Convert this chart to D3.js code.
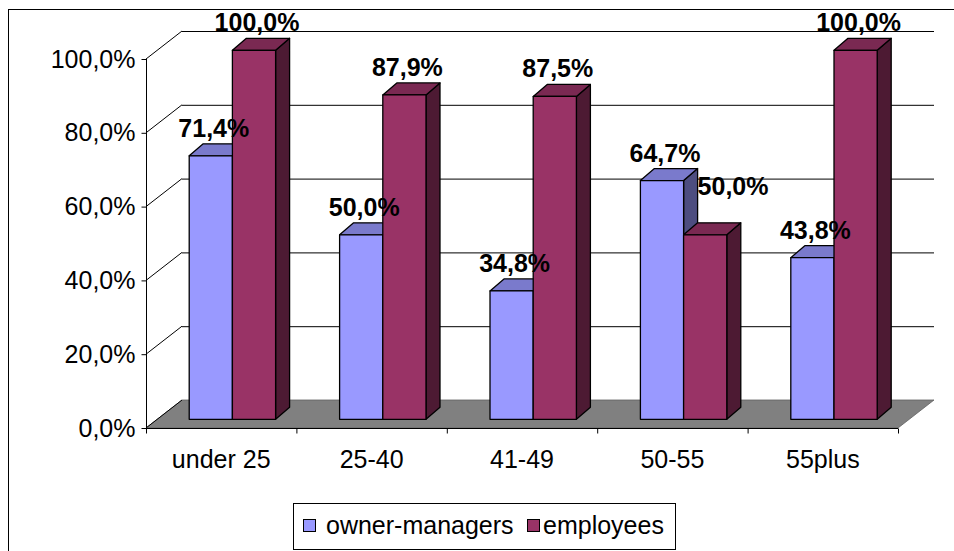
<!DOCTYPE html>
<html>
<head>
<meta charset="utf-8">
<script src="https://cdn.jsdelivr.net/npm/d3@7/dist/d3.min.js"></script>
<style>
  html, body { margin: 0; padding: 0; background: #fff; }
  svg { display: block; }
  text { font-family: "Liberation Sans", Arial, sans-serif; fill: #000; }
</style>
</head>
<body>
<svg id="chart" width="954" height="551"></svg>
<script>
// ---- data ----
const categories = ["under 25", "25-40", "41-49", "50-55", "55plus"];
const seriesNames = ["owner-managers", "employees"];
const ownerManagers = [71.4, 50.0, 34.8, 64.7, 43.8];
const employees = [100.0, 87.9, 87.5, 50.0, 100.0];
const yTicks = [0, 20, 40, 60, 80, 100];

const seriesValues = [ownerManagers, employees];
const frontColors = ["#9999FF", "#993366"];
const topColors = ["#7A7ACC", "#7A2952"];
const sideColors = ["#4D4D80", "#4D1A33"];

// ---- layout ----
const svg = d3.select("#chart");
const X0 = 146, X1 = 898, Y0 = 428, Y100 = 59;
const wallDX = 36, wallDY = 28;          // depth of walls / floor
const barShiftX = 11.2, barShiftY = 8.7;  // bars sit inside the floor depth
const barDX = 14, barDY = 12;             // bar depth

const x = d3.scaleBand().domain(categories).range([X0, X1]).padding(0);
const inner = d3.scaleBand().domain(seriesNames).range([0, x.bandwidth()])
  .paddingInner(0).paddingOuter(0.741);
const y = d3.scaleLinear().domain([0, 100]).range([Y0, Y100]);
const fmt = v => d3.format(".1f")(v).replace(".", ",") + "%";

// outer frame
svg.append("rect").attr("x", 8.5).attr("y", 9.5).attr("width", 1000).attr("height", 1000)
  .attr("fill", "none").attr("stroke", "#000").attr("stroke-width", 1);

// back wall gridlines
const grid = svg.append("g");
yTicks.forEach(t => {
  if (t === 0) return;
  grid.append("line")
    .attr("x1", X0 + wallDX).attr("x2", X1 + wallDX)
    .attr("y1", y(t) - wallDY + 0.5).attr("y2", y(t) - wallDY + 0.5)
    .attr("stroke", "#000").attr("stroke-width", 1);
  grid.append("line")
    .attr("x1", X0).attr("y1", y(t))
    .attr("x2", X0 + wallDX).attr("y2", y(t) - wallDY)
    .attr("stroke", "#000").attr("stroke-width", 1);
});

// floor
svg.append("polygon")
  .attr("points", [[X0, y(0)], [X1, y(0)], [X1 + wallDX, y(0) - wallDY], [X0 + wallDX, y(0) - wallDY]].map(p => p.join(",")).join(" "))
  .attr("fill", "#808080").attr("stroke", "#606060").attr("stroke-width", 0.8);
svg.append("line")
  .attr("x1", X0).attr("y1", y(0)).attr("x2", X0 + wallDX).attr("y2", y(0) - wallDY)
  .attr("stroke", "#000").attr("stroke-width", 1);

// axes
const yAxisG = svg.append("g").attr("transform", `translate(${X0 + 0.5},0)`)
  .call(d3.axisLeft(y).tickValues(yTicks).tickFormat(fmt).tickSize(5).tickPadding(6));
const xAxisG = svg.append("g").attr("transform", `translate(0,${Y0 + 0.5})`)
  .call(d3.axisBottom(x).tickSize(0).tickPadding(22));
[yAxisG, xAxisG].forEach(g => {
  g.select(".domain").attr("stroke", "#000").attr("stroke-width", 1);
  g.selectAll(".tick line").attr("stroke", "#000");
  g.selectAll("text").style("font-family", '"Liberation Sans", Arial, sans-serif')
    .style("font-size", "25px").attr("fill", "#000");
});
yAxisG.select(".domain").attr("d", `M0,${y(0)}V${y(100)}`);
xAxisG.select(".domain").attr("d", `M${X0},0H${X1}`);
// category boundary ticks
const bounds = categories.map(c => x(c)).concat([X1]);
xAxisG.selectAll(".bound").data(bounds).enter().append("line")
  .attr("x1", d => d + 0.5).attr("x2", d => d + 0.5).attr("y1", 0).attr("y2", 5)
  .attr("stroke", "#000");
xAxisG.selectAll(".tick text").attr("dy", "0.71em");

// bars
const barsG = svg.append("g");
const labels = [];
categories.forEach((c, ci) => {
  let prev = null;
  seriesNames.forEach((s, si) => {
    const v = seriesValues[si][ci];
    const w = inner.bandwidth();
    const left = x(c) + barShiftX + inner(s);
    const top = y(v) - barShiftY;
    const bottom = y(0) - barShiftY;
    const g = barsG.append("g").attr("stroke", "#000").attr("stroke-width", 1.3).attr("stroke-linejoin", "round");
    g.append("polygon")
      .attr("points", [[left + w, top], [left + w + barDX, top - barDY], [left + w + barDX, bottom - barDY], [left + w, bottom]].map(p => p.join(",")).join(" "))
      .attr("fill", sideColors[si]);
    g.append("polygon")
      .attr("points", [[left, top], [left + w, top], [left + w + barDX, top - barDY], [left + barDX, top - barDY]].map(p => p.join(",")).join(" "))
      .attr("fill", topColors[si]);
    g.append("rect").attr("x", left).attr("y", top).attr("width", w).attr("height", bottom - top)
      .attr("fill", frontColors[si]);
    labels.push({ x: left + w / 2 + 3, y: top - barDY - 7, text: fmt(v), prev: prev });
    prev = { right: left + w + barDX, top: top - barDY };
  });
});

const labelSel = svg.append("g").selectAll("text").data(labels).enter().append("text")
  .attr("x", d => d.x).attr("y", d => d.y)
  .attr("text-anchor", "middle")
  .style("font-size", "25px").style("font-weight", "bold")
  .text(d => d.text);
// nudge labels that collide with the neighbouring bar along the depth direction
labelSel.each(function (d) {
  if (!d.prev) return;
  const wdt = this.getComputedTextLength();
  const leftEdge = d.x - wdt / 2;
  if (leftEdge < d.prev.right && d.y > d.prev.top) {
    const dx = d.prev.right - leftEdge;
    const dy = dx * barDY / barDX;
    d3.select(this).attr("x", d.x + dx).attr("y", d.y - dy);
  }
});

// legend
const lg = svg.append("g");
lg.append("rect").attr("x", 293.5).attr("y", 503.5).attr("width", 382).attr("height", 46)
  .attr("fill", "#fff").attr("stroke", "#000").attr("stroke-width", 1);
const legendItems = [{ x: 303, tx: 326 }, { x: 527, tx: 543 }];
seriesNames.forEach((s, i) => {
  lg.append("rect").attr("x", legendItems[i].x + 0.5).attr("y", 519.5).attr("width", 12).attr("height", 12)
    .attr("fill", frontColors[i]).attr("stroke", "#000").attr("stroke-width", 1);
  lg.append("text").attr("x", legendItems[i].tx).attr("y", 534)
    .style("font-size", "25px").text(s);
});
</script>
</body>
</html>
